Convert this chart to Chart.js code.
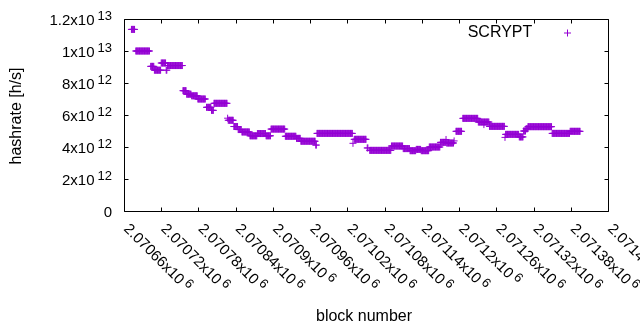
<!DOCTYPE html>
<html>
<head>
<meta charset="utf-8">
<script src="https://cdn.jsdelivr.net/npm/chart.js@4/dist/chart.umd.min.js"></script>
<style>
html,body{margin:0;padding:0;background:#fff;}
canvas{display:block;}
</style>
</head>
<body>
<canvas id="c" width="640" height="330"></canvas>
<script>
// ---------------- data ----------------
const seriesName = 'SCRYPT';
// constant-hashrate runs of blocks: first block, last block, hashrate [h/s]
const runStart = [2070672,2070679,2070703,2070709,2070720,2070728,2070730,2070755,2070761,2070769,
                  2070779,2070793,2070801,2070805,2070827,2070828,2070837,2070844,2070850,2070863,
                  2070875,2070889,2070897,2070920,2070938,2070945,2070969,2070971,2071029,2071031,
                  2071052,2071056,2071091,2071110,2071121,2071131,2071139,2071152,2071170,2071179,
                  2071180,2071192,2071195,2071206,2071231,2071240,2071249,2071274,2071275,2071297,
                  2071304,2071308,2071311,2071350,2071379];
const runEnd   = [2070677,2070701,2070708,2070719,2070727,2070729,2070754,2070760,2070768,2070778,
                  2070791,2070800,2070804,2070826,2070827,2070836,2070843,2070849,2070862,2070874,
                  2070888,2070896,2070919,2070937,2070944,2070968,2070970,2071028,2071029,2071050,
                  2071053,2071090,2071109,2071120,2071130,2071138,2071151,2071169,2071178,2071179,
                  2071191,2071192,2071204,2071230,2071248,2071240,2071273,2071274,2071296,2071303,
                  2071307,2071310,2071349,2071378,2071395];
const runValue = [1.135e13,1.0e13,9.04e12,8.8e12,9.25e12,8.8e12,9.09e12,7.52e12,7.3e12,7.2e12,
                  7.0e12,6.48e12,6.29e12,6.73e12,5.8e12,5.67e12,5.28e12,5.09e12,4.94e12,4.7e12,
                  4.84e12,4.7e12,5.12e12,4.67e12,4.54e12,4.36e12,4.12e12,4.85e12,4.23e12,4.48e12,
                  3.94e12,3.79e12,4.06e12,3.9e12,3.77e12,3.85e12,3.77e12,4.0e12,4.29e12,4.47e12,
                  4.25e12,4.38e12,4.98e12,5.79e12,5.56e12,5.4e12,5.29e12,4.6e12,4.79e12,4.63e12,
                  5.0e12,5.14e12,5.27e12,4.85e12,4.98e12];

// axes
const xMin = 2070660, xMax = 2071440, xStep = 60;
const yMin = 0, yMax = 1.2e13, yStep = 2e12;
const xTickLabels = ['2.07066x10','2.07072x10','2.07078x10','2.07084x10','2.0709x10','2.07096x10',
                     '2.07102x10','2.07108x10','2.07114x10','2.0712x10','2.07126x10','2.07132x10',
                     '2.07138x10','2.07144x10'];
const xTickExponents = ['6','6','6','6','6','6','6','6','6','6','6','6','6','6'];
const yTickLabels = ['0','2x10','4x10','6x10','8x10','1x10','1.2x10'];
const yTickExponents = ['','12','12','12','12','13','13'];
const xTitle = 'block number';
const yTitle = 'hashrate [h/s]';

// ---------------- build dataset from runs ----------------
const points = [];
for (let r = 0; r < runStart.length; r++) {
  for (let b = runStart[r]; b <= runEnd[r]; b++) points.push({x: b, y: runValue[r]});
}

const COLOR = '#9400d3';
const FONT = "'Liberation Sans', Arial, sans-serif";
const MAIN = 15, SUP = 13, GAP = 3, TITLE = 16;

function drawSupLabel(ctx, main, sup, x, y, align) {
  ctx.font = MAIN + 'px ' + FONT;
  const mw = ctx.measureText(main).width;
  ctx.font = SUP + 'px ' + FONT;
  const sw = sup ? ctx.measureText(sup).width : 0;
  const total = mw + (sup ? GAP + sw : 0);
  const x0 = align === 'right' ? x - total : x;
  ctx.textAlign = 'left';
  ctx.textBaseline = 'alphabetic';
  ctx.font = MAIN + 'px ' + FONT;
  ctx.fillText(main, x0, y + 5.8);
  if (sup) {
    ctx.font = SUP + 'px ' + FONT;
    ctx.fillText(sup, x0 + mw + GAP, y + 1.3);
  }
}

const gnuFrame = {
  id: 'gnuFrame',
  afterDraw(chart) {
    const ctx = chart.ctx;
    const a = chart.chartArea;
    const xs = chart.scales.x, ys = chart.scales.y;
    ctx.save();
    // border + inward ticks on all sides
    ctx.strokeStyle = '#000';
    ctx.lineWidth = 1;
    const L = a.left + 0.5, R = a.right + 0.5, T = a.top + 0.5, B = a.bottom + 0.5;
    const tl = 4;
    ctx.beginPath();
    ctx.rect(L, T, R - L, B - T);
    xs.ticks.forEach(t => {
      const px = Math.round(xs.getPixelForValue(t.value)) + 0.5;
      ctx.moveTo(px, B); ctx.lineTo(px, B - tl);
      ctx.moveTo(px, T); ctx.lineTo(px, T + tl);
    });
    ys.ticks.forEach(t => {
      const py = Math.round(ys.getPixelForValue(t.value)) + 0.5;
      ctx.moveTo(L, py); ctx.lineTo(L + tl, py);
      ctx.moveTo(R, py); ctx.lineTo(R - tl, py);
    });
    ctx.stroke();

    ctx.fillStyle = '#000';
    // y tick labels
    ys.ticks.forEach((t, i) => {
      const py = ys.getPixelForValue(t.value);
      drawSupLabel(ctx, yTickLabels[i] ?? String(t.value), yTickExponents[i] ?? '', a.left - 12, py, 'right');
    });
    // x tick labels, rotated 45deg clockwise, starting at the tick
    xs.ticks.forEach((t, i) => {
      const px = xs.getPixelForValue(t.value);
      ctx.save();
      ctx.translate(px + 3.1, a.bottom + 14.5);
      ctx.rotate(Math.PI / 4);
      drawSupLabel(ctx, xTickLabels[i] ?? String(t.value), xTickExponents[i] ?? '', 0, 0, 'left');
      ctx.restore();
    });

    // axis titles
    ctx.font = TITLE + 'px ' + FONT;
    ctx.textAlign = 'center';
    ctx.textBaseline = 'alphabetic';
    ctx.fillText(xTitle, (a.left + a.right) / 2 - 2, 321);
    ctx.save();
    ctx.translate(20.5, (a.top + a.bottom) / 2 + 1);
    ctx.rotate(-Math.PI / 2);
    ctx.fillText(yTitle, 0, 0);
    ctx.restore();

    // key (legend) inside top-right
    ctx.textAlign = 'right';
    ctx.fillText(seriesName, a.right - 75.7, a.top + 17.7);
    ctx.strokeStyle = COLOR;
    ctx.beginPath();
    const kx = a.right - 40.5, ky = a.top + 14;
    ctx.moveTo(kx - 3.5, ky); ctx.lineTo(kx + 3.5, ky);
    ctx.moveTo(kx, ky - 3.5); ctx.lineTo(kx, ky + 3.5);
    ctx.stroke();
    ctx.restore();
  }
};

new Chart(document.getElementById('c'), {
  type: 'scatter',
  data: {
    datasets: [{
      label: seriesName,
      data: points,
      pointStyle: 'cross',
      pointRadius: 3.5,
      pointHoverRadius: 3.5,
      pointBorderWidth: 1,
      borderColor: COLOR,
      backgroundColor: COLOR,
      showLine: false
    }]
  },
  options: {
    responsive: false,
    animation: false,
    devicePixelRatio: 1,
    events: [],
    layout: { padding: { left: 0, right: 32, top: 19, bottom: 0 } },
    plugins: { legend: { display: false }, tooltip: { enabled: false } },
    scales: {
      x: {
        type: 'linear', min: xMin, max: xMax,
        ticks: { display: false, stepSize: xStep },
        grid: { display: false }, border: { display: false },
        afterFit: s => { s.height = 119; }
      },
      y: {
        type: 'linear', min: yMin, max: yMax,
        ticks: { display: false, stepSize: yStep },
        grid: { display: false }, border: { display: false },
        afterFit: s => { s.width = 124; }
      }
    }
  },
  plugins: [gnuFrame]
});
</script>
</body>
</html>
